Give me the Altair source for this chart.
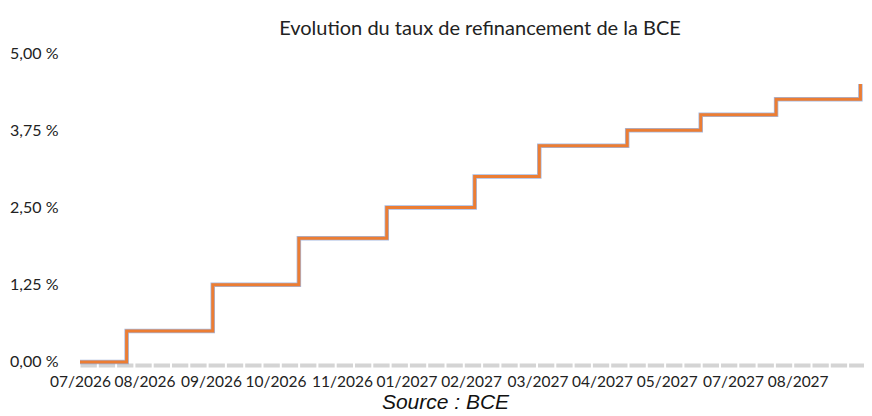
import altair as alt
import pandas as pd

# Step dates (change of rate) and rate levels
dates = ["2026-07-04", "2026-07-30", "2026-09-16", "2026-11-03", "2026-12-22",
         "2027-02-09", "2027-03-17", "2027-05-05", "2027-06-15", "2027-07-27",
         "2027-09-12"]
rates = [0.0, 0.5, 1.25, 2.0, 2.5, 3.0, 3.5, 3.75, 4.0, 4.25, 4.5]

# Tick label dates (labels shown as MM/YYYY)
tick_dates = [(2026, 7, 4), (2026, 8, 9), (2026, 9, 15), (2026, 10, 21),
              (2026, 11, 27), (2027, 1, 2), (2027, 2, 7), (2027, 3, 16),
              (2027, 4, 21), (2027, 5, 27), (2027, 7, 3), (2027, 8, 8)]
y_ticks = [0, 1.25, 2.5, 3.75, 5.0]

df = pd.DataFrame({"date": dates, "taux": rates})

x_scale = alt.Scale(type="utc",
                    domain=[alt.DateTime(year=2026, month=7, date=4, utc=True),
                            alt.DateTime(year=2027, month=9, date=14, utc=True)])
y_scale = alt.Scale(domain=[-0.05, 5.0], nice=False, zero=False)

x_enc = alt.X("date:T", scale=x_scale,
              axis=alt.Axis(values=[alt.DateTime(year=y, month=m, date=d, utc=True)
                                    for (y, m, d) in tick_dates],
                            format="%m/%Y", labelFont="Lato", labelFontSize=15.5,
                            labelColor="#222222", labelPadding=9, ticks=False,
                            domainColor="#d4d4d4", domainWidth=4,
                            domainDash=[16.3, 2], grid=False,
                            labelOverlap=False, labelFlush=False,
                            title="Source : BCE", titleFont="Liberation Sans",
                            titleFontStyle="italic", titleFontWeight="normal",
                            titleFontSize=21, titleColor="#111111",
                            titleBaseline="alphabetic", titleY=43, titleX=365))
y_enc = alt.Y("taux:Q", scale=y_scale,
              axis=alt.Axis(values=y_ticks, labelExpr="replace(format(datum.value, '.2f'), '.', ',') + ' %'",
                            labelFont="Lato", labelFontSize=16, labelColor="#222222",
                            labelPadding=22, ticks=False, domain=False, grid=False,
                            title=None))

base = alt.Chart(df)
blue = base.mark_line(interpolate="step-after", color="#5b7fc9", strokeWidth=4.5,
                      opacity=0.55).encode(x=x_enc, y=y_enc)
orange = base.mark_line(interpolate="step-after", color="#ec7d33",
                        strokeWidth=3).encode(x=x_enc, y=y_enc)

chart = alt.layer(blue, orange).properties(
    width=784, height=312,
    autosize=alt.AutoSizeParams(type="none"),
    padding={"left": 72, "top": 45, "right": 0, "bottom": 51},
    title=alt.TitleParams("Evolution du taux de refinancement de la BCE",
                          font="Lato", fontSize=20, fontWeight="normal",
                          color="#222222", anchor="middle", offset=6, dx=8),
).configure_view(stroke=None)

chart.save("out.html", embed_options={"renderer": "svg", "actions": False})
